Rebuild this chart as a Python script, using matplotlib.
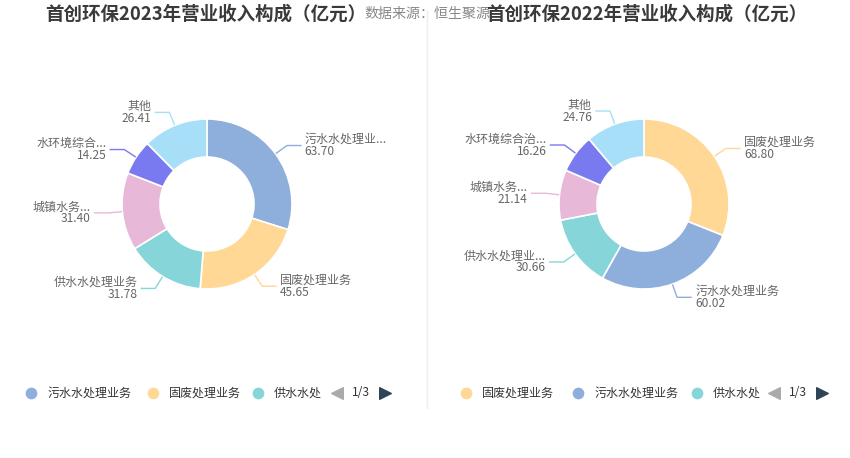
import numpy as np
import matplotlib.pyplot as plt

plt.rcParams['font.family'] = ['Noto Sans CJK SC', 'DejaVu Sans']

# 数据
names_2023 = ['污水水处理业务', '固废处理业务', '供水水处理业务', '城镇水务业务', '水环境综合治理业务', '其他']
labels_2023 = ['污水水处理业...', '固废处理业务', '供水水处理业务', '城镇水务...', '水环境综合...', '其他']
values_2023 = [63.70, 45.65, 31.78, 31.40, 14.25, 26.41]

names_2022 = ['固废处理业务', '污水水处理业务', '供水水处理业务', '城镇水务业务', '水环境综合治理业务', '其他']
labels_2022 = ['固废处理业务', '污水水处理业务', '供水水处理业...', '城镇水务...', '水环境综合治...', '其他']
values_2022 = [68.80, 60.02, 30.66, 21.14, 16.26, 24.76]

colors = {
    '污水水处理业务': '#8eaedb',
    '固废处理业务': '#ffd896',
    '供水水处理业务': '#86d5d9',
    '城镇水务业务': '#e7b8d8',
    '水环境综合治理业务': '#7a7af0',
    '其他': '#a8dff8',
}

W, H = 850, 458
fig = plt.figure(figsize=(W / 100, H / 100), dpi=100)
ax = fig.add_axes([0, 0, 1, 1])
ax.set_xlim(0, W)
ax.set_ylim(0, H)
ax.axis('off')


def px(v):
    return v * 0.72  # px -> pt


def donut(cx, cy, names, labels, values):
    cy = H - cy
    r_out, r_in = 85, 47
    cols = [colors[n] for n in names]
    ax.pie(values, colors=cols, startangle=90, counterclock=False, center=(cx, cy),
           radius=r_out, wedgeprops=dict(width=r_out - r_in, edgecolor='white', linewidth=1.2),
           frame=True)
    total = sum(values)
    cum = 0
    for lab, v, c in zip(labels, values, cols):
        mid = (cum + v / 2) / total * 360
        cum += v
        ang = np.deg2rad(90 - mid)
        x0, y0 = cx + (r_out + 1) * np.cos(ang), cy + (r_out + 1) * np.sin(ang)
        x1, y1 = cx + (r_out + 14) * np.cos(ang), cy + (r_out + 14) * np.sin(ang)
        side = 1 if np.cos(ang) >= 0 else -1
        x2 = x1 + side * 14
        ax.plot([x0, x1, x2], [y0, y1, y1], color=c, lw=1)
        ha = 'left' if side > 0 else 'right'
        ax.text(x2 + side * 4, y1 + 6, lab, ha=ha, va='center', fontsize=px(12), color='#666666')
        ax.text(x2 + side * 4, y1 - 6, f'{v:.2f}', ha=ha, va='center', fontsize=px(12), color='#666666')


donut(207, 204, names_2023, labels_2023, values_2023)
donut(644, 204, names_2022, labels_2022, values_2022)
ax.set_xlim(0, W)
ax.set_ylim(0, H)
ax.set_aspect('auto')

# 标题
ax.text(364, H - 14, '数据来源：恒生聚源', ha='left', va='center', fontsize=px(14), color='#888888',
        zorder=0)
ax.text(206, H - 14, '首创环保2023年营业收入构成（亿元）', ha='center', va='center',
        fontsize=px(18.5), fontweight='bold', color='#3a3a3a')
ax.text(647, H - 14, '首创环保2022年营业收入构成（亿元）', ha='center', va='center',
        fontsize=px(18.5), fontweight='bold', color='#3a3a3a')

# 分隔线
ax.plot([427, 427], [H - 10, H - 408], color='#eeeeee', lw=1)


# 图例
def legend(items, xs, arrow_x):
    y = H - 393
    for (name, text), x in zip(items, xs):
        ax.scatter([x], [y], s=55, color=colors[name], zorder=3)
        ax.text(x + 16, y, text, ha='left', va='center', fontsize=px(12), color='#333333')
    ax.scatter([arrow_x], [y], marker='<', s=70, color='#aaaaaa')
    ax.text(arrow_x + 15, y, '1/3', ha='left', va='center', fontsize=px(12), color='#333333')
    ax.scatter([arrow_x + 48], [y], marker='>', s=70, color='#2f4554')


legend([('污水水处理业务', '污水水处理业务'), ('固废处理业务', '固废处理业务'), ('供水水处理业务', '供水水处')],
       [31, 153, 258], 337)
legend([('固废处理业务', '固废处理业务'), ('污水水处理业务', '污水水处理业务'), ('供水水处理业务', '供水水处')],
       [466, 578, 697], 774)

fig.savefig('out.png', dpi=100)
